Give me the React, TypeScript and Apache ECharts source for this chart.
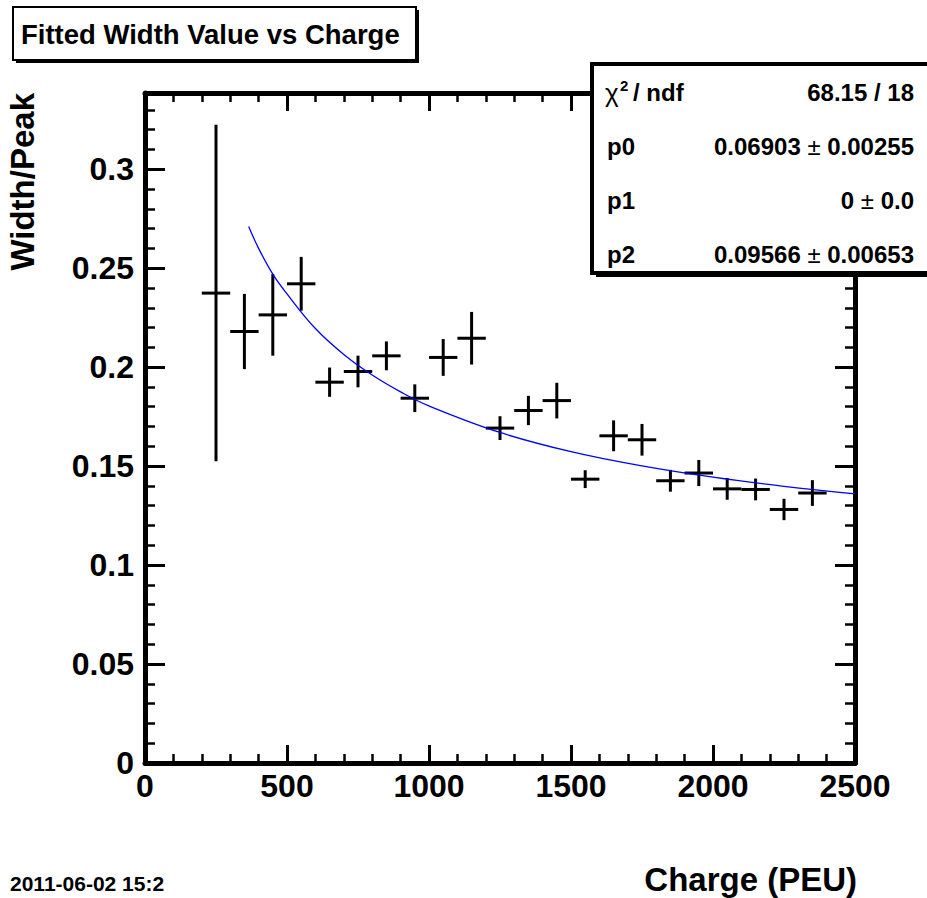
import React, { useEffect, useRef } from "react";
import * as echarts from "echarts";

// ---- data ----
const binCenters = [250, 350, 450, 550, 650, 750, 850, 950, 1050, 1150, 1250, 1350, 1450, 1550, 1650, 1750, 1850, 1950, 2050, 2150, 2250, 2350];
const widthOverPeak = [0.2374, 0.218, 0.2264, 0.2421, 0.1924, 0.1978, 0.2057, 0.1843, 0.2049, 0.2146, 0.1692, 0.1781, 0.1831, 0.1434, 0.1653, 0.1633, 0.1426, 0.1465, 0.1385, 0.1382, 0.1281, 0.1364];
const yErrors = [0.085, 0.019, 0.0206, 0.0136, 0.0074, 0.008, 0.0073, 0.007, 0.0093, 0.0133, 0.006, 0.0074, 0.009, 0.0045, 0.0078, 0.008, 0.0055, 0.0066, 0.0055, 0.0055, 0.0054, 0.0065];
const binHalfWidth = 50;

// fitted curve
const fitX = [365, 400, 450, 500, 600, 700, 800, 900, 1000, 1250, 1500, 1750, 2000, 2250, 2500];
const fitY = [0.271, 0.260, 0.247, 0.237, 0.2195, 0.2064, 0.196, 0.1875, 0.1804, 0.167, 0.1573, 0.1501, 0.1444, 0.1398, 0.136];

const statLabels = ["p0", "p1", "p2"];
const statValues = ["0.06903", "0", "0.09566"];
const statErrors = ["0.00255", "0.0", "0.00653"];
const chi2Text = "68.15 / 18";

const xTicks = { min: 0, max: 2500, interval: 500 };
const yTicks = { min: 0, max: 0.3385, interval: 0.05, minor: 0.01, lastLabel: 0.3 };

const FONT = '"Liberation Sans", Arial, Helvetica, sans-serif';

export default function App() {
  const ref = useRef<HTMLDivElement>(null);

  useEffect(() => {
    if (!ref.current) return;
    const chart = echarts.init(ref.current, null, { renderer: "svg" });

    const black = "#000";
    const labelStyle = { fontSize: 32, fontWeight: "bold" as const, fontFamily: FONT, color: black };

    const xAxisBase = (pos: string, showLabel: boolean) => ({
      type: "value",
      position: pos,
      min: xTicks.min,
      max: xTicks.max,
      interval: xTicks.interval,
      axisLine: { show: true, onZero: false, lineStyle: { color: black, width: 5 } },
      axisTick: { show: true, inside: true, length: 18, lineStyle: { color: black, width: 3 } },
      minorTick: { show: true, splitNumber: 5, length: 9, lineStyle: { color: black, width: 2.5 } },
      splitLine: { show: false },
      minorSplitLine: { show: false },
      axisLabel: showLabel ? { ...labelStyle, margin: 7, formatter: (v: number) => String(v) } : { show: false },
    });

    const yMajor = (pos: string, showLabel: boolean) => ({
      type: "value",
      position: pos,
      min: yTicks.min,
      max: yTicks.max,
      interval: yTicks.interval,
      axisLine: { show: true, onZero: false, lineStyle: { color: black, width: 5 } },
      axisTick: { show: true, inside: true, length: 20, lineStyle: { color: black, width: 3 } },
      splitLine: { show: false },
      axisLabel: showLabel
        ? {
            ...labelStyle,
            margin: 11,
            showMaxLabel: false,
            formatter: (v: number) => {
              const k = Math.round(v / yTicks.interval);
              if (Math.abs(v - k * yTicks.interval) > 1e-6 || v > yTicks.lastLabel + 1e-6) return "";
              return String(+(k * yTicks.interval).toFixed(2));
            },
          }
        : { show: false },
    });

    const yMinor = (pos: string) => ({
      type: "value",
      position: pos,
      min: yTicks.min,
      max: yTicks.max,
      interval: yTicks.minor,
      axisLine: { show: false, onZero: false },
      axisTick: { show: true, inside: true, length: 10, lineStyle: { color: black, width: 2.5 } },
      splitLine: { show: false },
      axisLabel: { show: false },
    });

    const errData = binCenters.map((x, i) => [x, widthOverPeak[i], binHalfWidth, yErrors[i]]);

    const statRows = statLabels.map((lab, i) => {
      const y = 146 + i * 54;
      return [
        {
          type: "text",
          x: 607,
          y,
          z: 102,
          style: { text: lab, font: `bold 24px ${FONT}`, fill: black, align: "left", verticalAlign: "middle" },
        },
        {
          type: "text",
          x: 914,
          y,
          z: 102,
          style: {
            text: `{b|${statValues[i]}}{n| ± }{b|${statErrors[i]}}`,
            align: "right",
            verticalAlign: "middle",
            rich: {
              b: { fontSize: 24, fontWeight: "bold", fontFamily: FONT, fill: black },
              n: { fontSize: 24, fontWeight: "normal", fontFamily: FONT, fill: black },
            },
          },
        },
      ];
    }).flat();

    const option: any = {
      animation: false,
      backgroundColor: "#fff",
      grid: { left: 145, right: 72, top: 93, bottom: 135, containLabel: false },
      xAxis: [xAxisBase("bottom", true), xAxisBase("top", false)],
      yAxis: [yMajor("left", true), yMinor("left"), yMajor("right", false), yMinor("right")],
      series: [
        {
          type: "custom",
          xAxisIndex: 0,
          yAxisIndex: 0,
          z: 3,
          encode: { x: 0, y: 1 },
          data: errData,
          renderItem: (_params: any, api: any) => {
            const x = api.value(0);
            const y = api.value(1);
            const ex = api.value(2);
            const ey = api.value(3);
            const pL = api.coord([x - ex, y]);
            const pR = api.coord([x + ex, y]);
            const pT = api.coord([x, y + ey]);
            const pB = api.coord([x, y - ey]);
            return {
              type: "group",
              children: [
                { type: "line", shape: { x1: pL[0], y1: pL[1], x2: pR[0], y2: pR[1] }, style: { stroke: black, lineWidth: 3 } },
                { type: "line", shape: { x1: pT[0], y1: pT[1], x2: pB[0], y2: pB[1] }, style: { stroke: black, lineWidth: 3 } },
              ],
            };
          },
        },
        {
          type: "line",
          xAxisIndex: 0,
          yAxisIndex: 0,
          z: 4,
          data: fitX.map((x, i) => [x, fitY[i]]),
          smooth: 0.4,
          showSymbol: false,
          symbol: "none",
          lineStyle: { color: "#0000ff", width: 1.3 },
        },
      ],
      graphic: [
        // title box
        { type: "rect", z: 100, shape: { x: 16, y: 10, width: 403, height: 53 }, style: { fill: black } },
        { type: "rect", z: 101, shape: { x: 13, y: 7, width: 403, height: 53 }, style: { fill: "#fff", stroke: black, lineWidth: 2 } },
        {
          type: "text",
          x: 21,
          y: 34,
          z: 102,
          style: { text: "Fitted Width Value vs Charge", font: `bold 27.5px ${FONT}`, fill: black, align: "left", verticalAlign: "middle" },
        },
        // stats box
        { type: "rect", z: 100, shape: { x: 596, y: 68, width: 340, height: 209 }, style: { fill: black } },
        { type: "rect", z: 101, shape: { x: 592, y: 64, width: 345, height: 209 }, style: { fill: "#fff", stroke: black, lineWidth: 4 } },
        { type: "text", x: 605, y: 93, z: 102, style: { text: "χ", font: `normal 26px ${FONT}`, fill: black, align: "left", verticalAlign: "middle" } },
        { type: "text", x: 620, y: 85, z: 102, style: { text: "2", font: `bold 15px ${FONT}`, fill: black, align: "left", verticalAlign: "middle" } },
        { type: "text", x: 633, y: 92, z: 102, style: { text: "/ ndf", font: `bold 24px ${FONT}`, fill: black, align: "left", verticalAlign: "middle" } },
        { type: "text", x: 914, y: 92, z: 102, style: { text: chi2Text, font: `bold 24px ${FONT}`, fill: black, align: "right", verticalAlign: "middle" } },
        ...statRows,
        // axis titles
        {
          type: "text",
          x: 22,
          y: 93,
          rotation: Math.PI / 2,
          z: 102,
          style: { text: "Width/Peak", font: `bold 33px ${FONT}`, fill: black, align: "right", verticalAlign: "middle" },
        },
        {
          type: "text",
          x: 857,
          y: 879,
          z: 102,
          style: { text: "Charge (PEU)", font: `bold 33px ${FONT}`, fill: black, align: "right", verticalAlign: "middle" },
        },
        {
          type: "text",
          x: 10,
          y: 883,
          z: 102,
          style: { text: "2011-06-02 15:2", font: `bold 21px ${FONT}`, fill: black, align: "left", verticalAlign: "middle" },
        },
      ],
    };

    chart.setOption(option);
    return () => chart.dispose();
  }, []);

  return (
    <div
      ref={ref}
      style={{ position: "absolute", left: 0, top: 0, width: 927, height: 898, background: "#fff" }}
    />
  );
}
